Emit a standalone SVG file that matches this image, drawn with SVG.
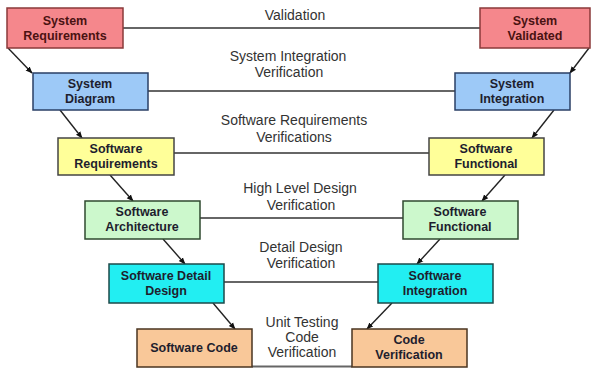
<svg xmlns="http://www.w3.org/2000/svg" width="592" height="370" viewBox="0 0 592 370">
<style>
.box{stroke:#333;stroke-width:1.5}
.bt{font-family:"Liberation Sans",Arial,sans-serif;font-weight:bold;font-size:12.5px;fill:#1e1e2e;text-anchor:middle}
.lt{font-family:"Liberation Sans",Arial,sans-serif;font-size:14px;fill:#333;text-anchor:middle}
.hl{stroke:#666;stroke-width:2;fill:none}
.ar{stroke:#222;stroke-width:1.4;fill:none;marker-end:url(#ah)}
.pink{fill:#f5878c;stroke:#8a3a3a}
.blue{fill:#9dc9f7;stroke:#2a3f66}
.yel{fill:#ffff99;stroke:#444}
.grn{fill:#ccf8cc;stroke:#2f4a2f}
.cyan{fill:#22eef2;stroke:#1d4a4a}
.org{fill:#f9c899;stroke:#4a3520}
</style>
<defs>
<marker id="ah" viewBox="0 0 10 10" refX="9" refY="5" markerWidth="7" markerHeight="7" orient="auto" markerUnits="userSpaceOnUse">
<path d="M0,1 L10,5 L0,9 z" fill="#111"/>
</marker>
</defs>
<rect width="592" height="370" fill="#fff"/>
<g id="connectors">
<line class="hl" x1="123" y1="28" x2="480" y2="28"/>
<line class="hl" x1="148" y1="91" x2="455" y2="91"/>
<line class="hl" x1="174" y1="153" x2="429" y2="153"/>
<line class="hl" x1="200" y1="218" x2="403" y2="218"/>
<line class="hl" x1="224" y1="282" x2="378" y2="282"/>
<line class="hl" x1="252" y1="366.5" x2="352" y2="366.5"/>
<line class="ar" x1="8" y1="48" x2="32" y2="73"/>
<line class="ar" x1="60" y1="110" x2="82" y2="138"/>
<line class="ar" x1="110" y1="175" x2="133" y2="201"/>
<line class="ar" x1="163" y1="239" x2="185" y2="264"/>
<line class="ar" x1="213" y1="303" x2="235" y2="329"/>
<line class="ar" x1="589" y1="48" x2="570" y2="73"/>
<line class="ar" x1="554" y1="110" x2="532" y2="138"/>
<line class="ar" x1="505" y1="175" x2="482" y2="201"/>
<line class="ar" x1="440" y1="239" x2="417" y2="264"/>
<line class="ar" x1="392" y1="303" x2="367" y2="329"/>
<text class="lt" x="295" y="20">Validation</text>
<text class="lt" x="288" y="61">System Integration</text>
<text class="lt" x="289" y="77">Verification</text>
<text class="lt" x="294" y="125">Software Requirements</text>
<text class="lt" x="294" y="142">Verifications</text>
<text class="lt" x="300" y="193">High Level Design</text>
<text class="lt" x="301" y="210">Verification</text>
<text class="lt" x="301" y="252">Detail Design</text>
<text class="lt" x="301" y="268">Verification</text>
<text class="lt" x="302" y="327">Unit Testing</text>
<text class="lt" x="302" y="342">Code</text>
<text class="lt" x="302" y="357">Verification</text>
</g>
<g id="sysreq"><rect class="box pink" x="7" y="8" width="116" height="40"/><text class="bt" x="65" y="25" fill="#4a1212" style="fill:#4a1212">System</text><text class="bt" x="65" y="40" style="fill:#4a1212">Requirements</text></g>
<g id="sysval"><rect class="box pink" x="480" y="8" width="110" height="40"/><text class="bt" x="535" y="25" style="fill:#4a1212">System</text><text class="bt" x="535" y="40" style="fill:#4a1212">Validated</text></g>
<g id="sysdiag"><rect class="box blue" x="33" y="73" width="115" height="37"/><text class="bt" x="90" y="88">System</text><text class="bt" x="90" y="103">Diagram</text></g>
<g id="sysint"><rect class="box blue" x="455" y="73" width="115" height="37"/><text class="bt" x="512" y="88">System</text><text class="bt" x="512" y="103">Integration</text></g>
<g id="swreq"><rect class="box yel" x="58" y="138" width="116" height="37"/><text class="bt" x="116" y="153">Software</text><text class="bt" x="116" y="168">Requirements</text></g>
<g id="swfunc1"><rect class="box yel" x="429" y="138" width="115" height="37"/><text class="bt" x="486" y="153">Software</text><text class="bt" x="486" y="168">Functional</text></g>
<g id="swarch"><rect class="box grn" x="85" y="201" width="115" height="38"/><text class="bt" x="142" y="216">Software</text><text class="bt" x="142" y="231">Architecture</text></g>
<g id="swfunc2"><rect class="box grn" x="403" y="201" width="115" height="38"/><text class="bt" x="460" y="216">Software</text><text class="bt" x="460" y="231">Functional</text></g>
<g id="swdd"><rect class="box cyan" x="109" y="264" width="115" height="39"/><text class="bt" x="166" y="280">Software Detail</text><text class="bt" x="166" y="295">Design</text></g>
<g id="swint"><rect class="box cyan" x="378" y="264" width="115" height="39"/><text class="bt" x="435" y="280">Software</text><text class="bt" x="435" y="295">Integration</text></g>
<g id="swcode"><rect class="box org" x="137" y="329" width="115" height="38"/><text class="bt" x="194" y="352">Software Code</text></g>
<g id="codever"><rect class="box org" x="352" y="329" width="115" height="38"/><text class="bt" x="409" y="344">Code</text><text class="bt" x="409" y="359">Verification</text></g>
</svg>
